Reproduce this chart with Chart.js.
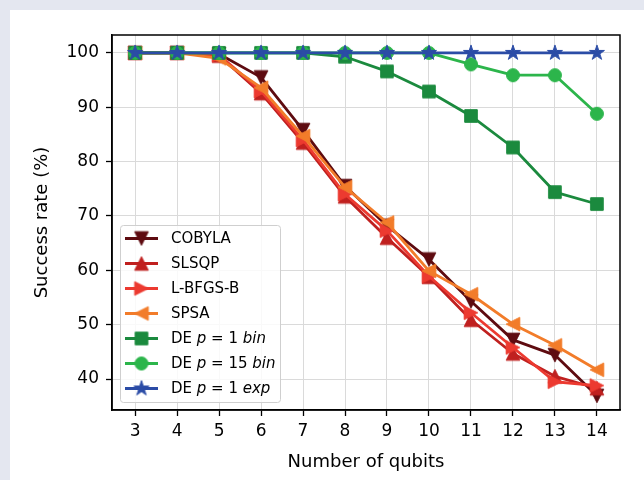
<!DOCTYPE html>
<html>
<head>
<meta charset="utf-8">
<title>Success rate vs number of qubits</title>
<script src="https://cdn.jsdelivr.net/npm/chart.js@4.4.1/dist/chart.umd.min.js"></script>
<style>
    html, body { margin: 0; padding: 0; background: #e4e7f0; }
    #card { position: absolute; left: 10px; top: 10px; right: 0; bottom: 0; background: #ffffff; }
    #wrap { position: absolute; left: 0; top: 0; width: 644px; height: 480px; }
</style>
</head>
<body>
<div id="card"></div>
<div id="wrap"><canvas id="chart" width="644" height="480"></canvas></div>
<script>
// --- data ---
const qubits = [3, 4, 5, 6, 7, 8, 9, 10, 11, 12, 13, 14];
const yTicks = [40, 50, 60, 70, 80, 90, 100];

const cobyla  = [100, 100, 99.8, 95.5, 85.8, 75.5, 68.2, 62.0, 54.3, 47.2, 44.4, 36.9];
const slsqp   = [100, 100, 99.5, 92.6, 83.5, 73.6, 66.0, 58.8, 50.9, 44.7, 40.5, 38.3];
const lbfgsb  = [100, 100, 99.6, 93.0, 84.0, 74.0, 67.3, 58.9, 52.2, 45.8, 39.5, 38.8];
const spsa    = [100, 100, 99.0, 93.6, 84.7, 75.3, 68.8, 59.9, 55.6, 50.1, 46.2, 41.7];
const deBin1  = [100, 100, 100, 100, 100, 99.3, 96.6, 92.9, 88.4, 82.6, 74.4, 72.2];
const deBin15 = [100, 100, 100, 100, 100, 100, 100, 100, 97.9, 95.9, 95.9, 88.8];
const deExp1  = [100, 100, 100, 100, 100, 100, 100, 100, 100, 100, 100, 100];

// legend labels, italic parts flagged
const labels = [
    [['COBYLA', false]],
    [['SLSQP', false]],
    [['L-BFGS-B', false]],
    [['SPSA', false]],
    [['DE ', false], ['p', true], [' = 1 ', false], ['bin', true]],
    [['DE ', false], ['p', true], [' = 15 ', false], ['bin', true]],
    [['DE ', false], ['p', true], [' = 1 ', false], ['exp', true]]
];

const FONT = '"DejaVu Sans", sans-serif';
Chart.defaults.font.family = FONT;
Chart.defaults.color = '#000';

// marker drawn on a small canvas, used by the points and by the legend
function markerMachen(form, farbe) {
    const c = document.createElement('canvas');
    c.width = 20;
    c.height = 20;
    const g = c.getContext('2d');
    const m = 10, h = 6.8;
    g.fillStyle = farbe;
    g.strokeStyle = farbe;
    g.lineWidth = 1;
    g.beginPath();
    if (form === 'down') {
        g.moveTo(m - h, m - h); g.lineTo(m + h, m - h); g.lineTo(m, m + h);
    } else if (form === 'up') {
        g.moveTo(m, m - h); g.lineTo(m + h, m + h); g.lineTo(m - h, m + h);
    } else if (form === 'right') {
        g.moveTo(m - h, m - h); g.lineTo(m + h, m); g.lineTo(m - h, m + h);
    } else if (form === 'left') {
        g.moveTo(m + h, m - h); g.lineTo(m - h, m); g.lineTo(m + h, m + h);
    } else if (form === 'square') {
        g.rect(m - 6.3, m - 6.3, 12.6, 12.6);
    } else if (form === 'circle') {
        g.arc(m, m, 6.5, 0, Math.PI * 2);
    } else if (form === 'star') {
        for (let i = 0; i < 10; i++) {
            const r = i % 2 === 0 ? 7.9 : 7.9 * 0.382;
            const a = -Math.PI / 2 + i * Math.PI / 5;
            const px = m + r * Math.cos(a), py = m + r * Math.sin(a);
            if (i === 0) g.moveTo(px, py); else g.lineTo(px, py);
        }
    }
    g.closePath();
    g.fill();
    g.stroke();
    return c;
}

const serien = [
    { werte: cobyla,  farbe: '#5e0b10', form: 'down' },
    { werte: slsqp,   farbe: '#c0201f', form: 'up' },
    { werte: lbfgsb,  farbe: '#ec3a30', form: 'right' },
    { werte: spsa,    farbe: '#f27c2a', form: 'left' },
    { werte: deBin1,  farbe: '#1b8a3e', form: 'square' },
    { werte: deBin15, farbe: '#2cb54b', form: 'circle' },
    { werte: deExp1,  farbe: '#2b4ca6', form: 'star' }
];
serien.forEach(function (s) { s.marker = markerMachen(s.form, s.farbe); });

const datasets = serien.map(function (s, i) {
    return {
        data: s.werte.map(function (v, k) { return { x: qubits[k], y: v }; }),
        borderColor: s.farbe,
        backgroundColor: s.farbe,
        borderWidth: 2.8,
        borderJoinStyle: 'round',
        tension: 0,
        pointStyle: s.marker,
        pointRadius: 6,
        pointHoverRadius: 6,
        order: serien.length - i
    };
});

// frame around the plot area (like matplotlib spines)
const rahmen = {
    id: 'rahmen',
    afterDatasetsDraw: function (chart) {
        const a = chart.chartArea;
        const ctx = chart.ctx;
        ctx.save();
        ctx.strokeStyle = '#000';
        ctx.lineWidth = 1.5;
        ctx.strokeRect(a.left, a.top, a.right - a.left, a.bottom - a.top);
        ctx.restore();
    }
};

// legend box in the lower left, drawn by hand for the italic parts
const legende = {
    id: 'legende',
    afterDraw: function (chart) {
        const ctx = chart.ctx;
        const x0 = 120.5, y0 = 225.5, w = 160, h = 177;
        ctx.save();
        ctx.beginPath();
        ctx.roundRect(x0, y0, w, h, 3);
        ctx.fillStyle = 'rgba(255,255,255,0.82)';
        ctx.fill();
        ctx.strokeStyle = '#cfcfcf';
        ctx.lineWidth = 1;
        ctx.stroke();

        ctx.textBaseline = 'middle';
        serien.forEach(function (s, i) {
            const y = 238.5 + i * 25;
            ctx.beginPath();
            ctx.moveTo(125, y);
            ctx.lineTo(158, y);
            ctx.strokeStyle = s.farbe;
            ctx.lineWidth = 2.8;
            ctx.stroke();
            ctx.drawImage(s.marker, 141.5 - 10, y - 10);

            let tx = 171;
            ctx.fillStyle = '#000';
            labels[i].forEach(function (teil) {
                ctx.font = (teil[1] ? 'italic ' : '') + '15px ' + FONT;
                ctx.fillText(teil[0], tx, y + 1);
                tx += ctx.measureText(teil[0]).width;
            });
        });
        ctx.restore();
    }
};

new Chart(document.querySelector('#chart'), {
    type: 'line',
    data: { datasets: datasets },
    options: {
        responsive: false,
        animation: false,
        events: [],
        layout: { padding: { left: 30, top: 35, right: 24, bottom: 0 } },
        scales: {
            x: {
                type: 'linear',
                min: 2.45,
                max: 14.55,
                afterFit: function (scale) { scale.height = 70; },
                afterBuildTicks: function (scale) {
                    scale.ticks = qubits.map(function (v) { return { value: v }; });
                },
                ticks: { color: '#000', font: { size: 17 }, padding: 5 },
                grid: { color: '#dadada', lineWidth: 1, tickColor: '#000', tickLength: 6, tickWidth: 1.3 },
                border: { color: '#000', width: 1.5 },
                title: { display: true, text: 'Number of qubits', color: '#000', font: { size: 18 }, padding: { top: 0, bottom: 7 } }
            },
            y: {
                type: 'linear',
                min: 34.3,
                max: 103.3,
                afterFit: function (scale) { scale.width = 82; },
                afterBuildTicks: function (scale) {
                    scale.ticks = yTicks.map(function (v) { return { value: v }; });
                },
                ticks: { color: '#000', font: { size: 17 }, padding: 7 },
                grid: { color: '#dadada', lineWidth: 1, tickColor: '#000', tickLength: 6, tickWidth: 1.3 },
                border: { color: '#000', width: 1.5 },
                title: { display: true, text: 'Success rate (%)', color: '#000', font: { size: 18 }, padding: { top: 2, bottom: 0 } }
            }
        },
        plugins: {
            legend: { display: false },
            tooltip: { enabled: false }
        }
    },
    plugins: [rahmen, legende]
});
</script>
</body>
</html>
